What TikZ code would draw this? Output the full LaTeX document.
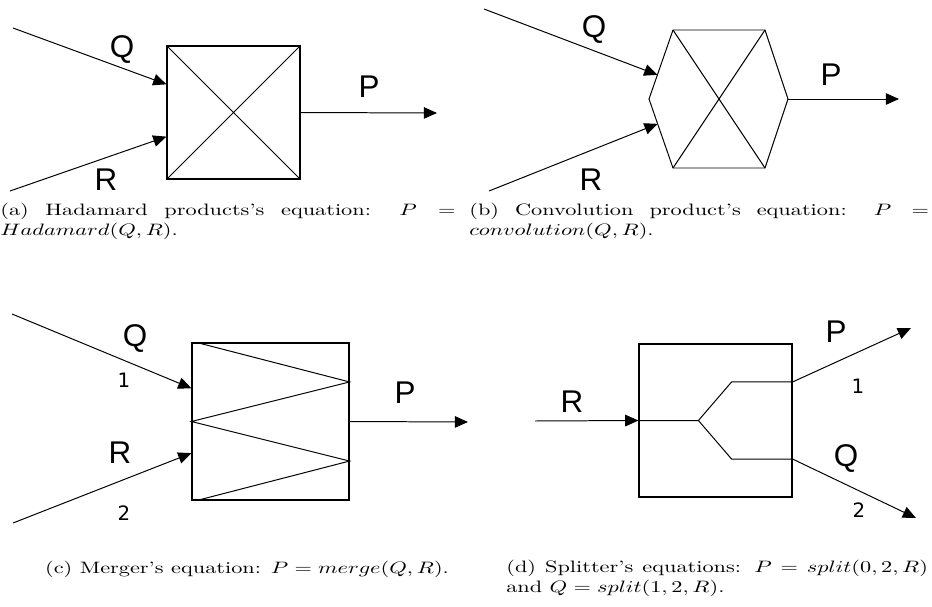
\documentclass[tikz,border=0pt]{standalone}
\usepackage{graphicx}
\usepackage{fontspec}
\newfontfamily\lblfont{Liberation Sans}
\newfontfamily\idxfont{DejaVu Sans}
\usetikzlibrary{arrows.meta,positioning,fit,calc}

\begin{document}
\begin{tikzpicture}[
    x=0.605pt, y=-0.605pt,
    block/.style={rectangle, draw, line width=0.7pt, inner sep=0pt},
    wire/.style={line width=0.6pt},
    flow/.style={wire, -{Triangle[length=8pt,width=7pt]}},
    port/.style={font=\lblfont\fontsize{19}{20}\selectfont, inner sep=0pt},
    idx/.style={font=\idxfont\fontsize{12}{13}\selectfont, inner sep=0pt},
    subcap/.style={inner sep=0pt, anchor=north west}
]
\useasboundingbox (0,0) rectangle (932,607);

% (a) Hadamard product
\node[block, fit={(167,46) (300,179)}] (had) {};
\draw[wire] (had.north west) -- (had.south east) (had.south west) -- (had.north east);
\coordinate (qa) at (13,28);
\coordinate (ra) at (10,191);
\coordinate (pa) at (437,113);
\draw[flow] (qa) -- ($(had.north west)!0.29!(had.south west)$);
\draw[flow] (ra) -- ($(had.north west)!0.68!(had.south west)$);
\draw[flow] (had.east) -- (pa);
\node[port] (qa-lbl) at (122,50) {Q};
\node[port] (ra-lbl) at (106,180) {R};
\node[port] (pa-lbl) at (369,87) {P};
\node[subcap] (capa) at (0,203) {\scalebox{1.35}[1]{\parbox[t]{204pt}{%
  (a) Hadamard products's equation: $P =$\linebreak $Hadamard(Q,R)$.}}};

% (b) convolution product
\coordinate (cv-nw) at (673,30);
\coordinate (cv-ne) at (765,30);
\coordinate (cv-e)  at (788,99);
\coordinate (cv-se) at (765,168);
\coordinate (cv-sw) at (673,168);
\coordinate (cv-w)  at (649,99);
\draw[wire] (cv-nw) -- (cv-ne) -- (cv-e) -- (cv-se) -- (cv-sw) -- (cv-w) -- cycle;
\draw[wire] (cv-nw) -- (cv-se) (cv-ne) -- (cv-sw);
\coordinate (qb) at (484,9);
\coordinate (rb) at (489,191);
\coordinate (pb) at (899,99);
\draw[flow] (qb) -- ($(cv-w)!0.35!(cv-nw)$);
\draw[flow] (rb) -- ($(cv-w)!0.36!(cv-sw)$);
\draw[flow] (cv-e) -- (pb);
\node[port] (qb-lbl) at (594,30) {Q};
\node[port] (rb-lbl) at (591,180) {R};
\node[port] (pb-lbl) at (831,75) {P};
\node[subcap] (capb) at (469,203) {\scalebox{1.35}[1]{\parbox[t]{206pt}{%
  (b) Convolution product's equation: $P =$\linebreak $convolution(Q,R)$.}}};

% (c) merger
\node[block, fit={(192,343) (349,500)}] (mrg) {};
\draw[wire] ($(mrg.north west)+(5,0)$) -- ($(mrg.north east)!0.25!(mrg.south east)$)
  -- (mrg.west) -- ($(mrg.north east)!0.75!(mrg.south east)$)
  -- ($(mrg.south west)+(5,0)$);
\coordinate (qc) at (12,314);
\coordinate (rc) at (13,523);
\coordinate (pc) at (468,422);
\draw[flow] (qc) -- ($(mrg.north west)!0.29!(mrg.south west)$);
\draw[flow] (rc) -- ($(mrg.north west)!0.70!(mrg.south west)$);
\draw[flow] (mrg.east) -- (pc);
\node[port] (qc-lbl) at (135,338) {Q};
\node[idx]  (qc-idx) at (124,380) {1};
\node[port] (rc-lbl) at (120,453) {R};
\node[idx]  (rc-idx) at (124,513) {2};
\node[port] (pc-lbl) at (405,393) {P};
\node[inner sep=0pt] (capc) at (247,569)
  {\scalebox{1.35}[1]{(c) Merger's equation: $P = merge(Q,R)$.}};

% (d) splitter
\node[block, fit={(639,344) (792,497)}] (spl) {};
\coordinate (fork) at ($(spl.west)+(60,0)$);
\coordinate (out1) at ($(spl.north east)!0.25!(spl.south east)$);
\coordinate (out2) at ($(spl.north east)!0.75!(spl.south east)$);
\draw[wire] (spl.west) -- (fork) -- ($(out1)+(-61,0)$) -- (out1);
\draw[wire] (fork) -- ($(out2)+(-61,0)$) -- (out2);
\coordinate (rd) at (535,421);
\coordinate (pd) at (911,328);
\coordinate (qd) at (916,518);
\draw[flow] (rd) -- (spl.west);
\draw[flow] (out1) -- (pd);
\draw[flow] (out2) -- (qd);
\node[port] (rd-lbl) at (572,402) {R};
\node[port] (pd-lbl) at (836,332) {P};
\node[idx]  (pd-idx) at (858,386) {1};
\node[port] (qd-lbl) at (846,458) {Q};
\node[idx]  (qd-idx) at (859,510) {2};
\node[subcap] (capd) at (506,560) {\scalebox{1.35}[1]{\parbox[t]{189pt}{%
  (d) Splitter's equations: $P = split(0,2,R)$\linebreak and $Q = split(1,2,R)$.}}};
\end{tikzpicture}
\end{document}
